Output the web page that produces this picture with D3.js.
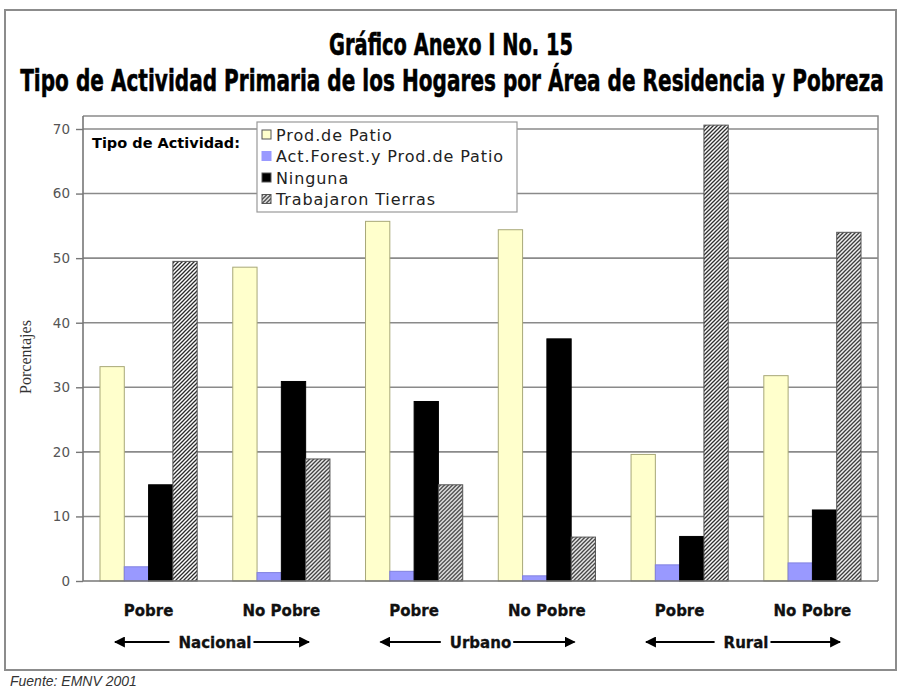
<!DOCTYPE html>
<html>
<head>
<meta charset="utf-8">
<script src="https://cdn.jsdelivr.net/npm/d3@7/dist/d3.min.js"></script>
<style>
  html, body { margin: 0; padding: 0; background: #fff; }
  svg { display: block; }
</style>
</head>
<body>
<svg id="chart" width="901" height="690"></svg>
<script>
// Categories along the x axis (pairs by area of residence)
const categories = ["Pobre", "No Pobre", "Pobre", "No Pobre", "Pobre", "No Pobre"];
const areas = ["Nacional", "Urbano", "Rural"];

// Series (percent of households)
const seriesNames = ["Prod.de Patio", "Act.Forest.y Prod.de Patio", "Ninguna", "Trabajaron Tierras"];
const prodPatio   = [33.2, 48.6, 55.7, 54.4, 19.6, 31.8];
const actForest   = [2.2, 1.3, 1.5, 0.8, 2.5, 2.8];
const ninguna     = [14.9, 30.9, 27.8, 37.5, 6.9, 11.0];
const tierras     = [49.5, 18.9, 14.9, 6.8, 70.6, 54.0];
const yTicks      = [0, 10, 20, 30, 40, 50, 60, 70];

const seriesValues = [prodPatio, actForest, ninguna, tierras];

const svg = d3.select("#chart");
const defs = svg.append("defs");

// diagonal hatch for "Trabajaron Tierras"
const pat = defs.append("pattern")
  .attr("id", "hatch")
  .attr("patternUnits", "userSpaceOnUse")
  .attr("width", 4).attr("height", 4);
pat.append("rect").attr("width", 4).attr("height", 4).attr("fill", "#fff");
pat.append("path")
  .attr("d", "M-1,1 l2,-2 M0,4 l4,-4 M3,5 l2,-2")
  .attr("stroke", "#2a2a2a").attr("stroke-width", 1.3);

const fills = ["#FFFFCC", "#9999FF", "#000000", "url(#hatch)"];
const strokes = ["#a8a878", "#8080e0", "#000000", "#555"];

// outer chart frame
svg.append("rect")
  .attr("x", 5).attr("y", 10).attr("width", 891).attr("height", 660)
  .attr("fill", "none").attr("stroke", "#8c8c8c").attr("stroke-width", 2);

// title: bold face sized to the target width, then stretched vertically
// to get a tall condensed look
const titleFont = "'DejaVu Sans', sans-serif";
function titleLine(str, cx, baseline, targetWidth, visualSize) {
  const t = svg.append("text")
    .attr("text-anchor", "middle")
    .attr("font-family", titleFont).attr("font-weight", "bold")
    .attr("font-size", 20)
    .attr("fill", "#000")
    .text(str);
  const w20 = t.node().getComputedTextLength();
  const f = 20 * targetWidth / w20;
  const sy = visualSize / f;
  t.attr("font-size", f)
    .attr("stroke", "#000").attr("stroke-width", 0.6 / sy)
    .attr("transform", `translate(${cx},${baseline}) scale(1,${sy})`);
}
titleLine("Gráfico Anexo I No. 15", 451, 55, 244, 31);
titleLine("Tipo de Actividad Primaria de los Hogares por Área de Residencia y Pobreza", 452, 91, 864, 31);

// plot area
const left = 83, right = 878, plotTop = 116;
const y = d3.scaleLinear().domain([0, 70]).range([581, 129]);
const x0 = d3.scaleBand()
  .domain(d3.range(categories.length))
  .range([left, right])
  .paddingInner(0.268)
  .paddingOuter(0.128);
const x1 = d3.scaleBand()
  .domain(d3.range(seriesNames.length))
  .range([0, x0.bandwidth()]);

// plot frame (top and right edges)
svg.append("path")
  .attr("d", `M${left},${plotTop}H${right}V${y(0)}`)
  .attr("fill", "none").attr("stroke", "#8a8a8a").attr("stroke-width", 1.5);

// gridlines
svg.append("g")
  .selectAll("line")
  .data(yTicks.filter(t => t > 0))
  .join("line")
  .attr("x1", left).attr("x2", right)
  .attr("y1", d => y(d)).attr("y2", d => y(d))
  .attr("stroke", "#8a8a8a").attr("stroke-width", 1.6);

// y axis
const yAxis = svg.append("g")
  .attr("transform", `translate(${left},0)`)
  .call(d3.axisLeft(y).tickValues(yTicks).tickSize(7).tickPadding(6).tickFormat(d3.format("d")));
yAxis.select(".domain").remove();
yAxis.append("line")
  .attr("x1", 0).attr("x2", 0).attr("y1", plotTop).attr("y2", y(0))
  .attr("stroke", "#777").attr("stroke-width", 1.6);
yAxis.selectAll(".tick line").attr("stroke", "#777").attr("stroke-width", 1.4);
yAxis.selectAll(".tick text")
  .attr("font-family", "'DejaVu Sans', sans-serif")
  .attr("font-size", 13.5).attr("fill", "#555");

svg.append("text")
  .attr("transform", `translate(31,357) rotate(-90)`)
  .attr("text-anchor", "middle")
  .attr("font-family", "'Liberation Serif', 'DejaVu Serif', serif")
  .attr("font-size", 16).attr("fill", "#333")
  .text("Porcentajes");

// bars
const groups = svg.append("g")
  .selectAll("g")
  .data(categories.map((c, i) => i))
  .join("g")
  .attr("transform", i => `translate(${x0(i)},0)`);

groups.selectAll("rect")
  .data(i => seriesValues.map((vals, s) => ({ s, v: vals[i] })))
  .join("rect")
  .attr("x", d => x1(d.s))
  .attr("width", x1.bandwidth())
  .attr("y", d => y(d.v))
  .attr("height", d => y(0) - y(d.v))
  .attr("fill", d => fills[d.s])
  .attr("stroke", d => strokes[d.s])
  .attr("stroke-width", 1);

// x axis baseline
svg.append("line")
  .attr("x1", left).attr("x2", right)
  .attr("y1", y(0)).attr("y2", y(0))
  .attr("stroke", "#777").attr("stroke-width", 1.6);

// category labels
svg.append("g")
  .selectAll("text")
  .data(categories)
  .join("text")
  .attr("x", (d, i) => x0(i) + x0.bandwidth() / 2)
  .attr("y", 616)
  .attr("text-anchor", "middle")
  .attr("font-family", "'DejaVu Sans', sans-serif")
  .attr("font-weight", "bold").attr("font-size", 15)
  .attr("fill", "#111").attr("stroke", "#111").attr("stroke-width", 0.3)
  .text(d => d);

// area labels with arrows
defs.append("marker")
  .attr("id", "arrow")
  .attr("viewBox", "0 0 10 10")
  .attr("refX", 9).attr("refY", 5)
  .attr("markerWidth", 5).attr("markerHeight", 5)
  .attr("orient", "auto-start-reverse")
  .append("path").attr("d", "M0,0 L10,5 L0,10 z").attr("fill", "#000");

areas.forEach((a, k) => {
  const c = (x0(2 * k) + x0(2 * k + 1) + x0.bandwidth()) / 2;
  const t = svg.append("text")
    .attr("x", c).attr("y", 648)
    .attr("text-anchor", "middle")
    .attr("font-family", "'DejaVu Sans', sans-serif")
    .attr("font-weight", "bold").attr("font-size", 15)
    .attr("fill", "#111").attr("stroke", "#111").attr("stroke-width", 0.3)
    .text(a);
  const w = t.node().getComputedTextLength();
  svg.append("line")
    .attr("x1", c - w / 2 - 9).attr("x2", c - 100)
    .attr("y1", 642).attr("y2", 642)
    .attr("stroke", "#000").attr("stroke-width", 2.2)
    .attr("marker-end", "url(#arrow)");
  svg.append("line")
    .attr("x1", c + w / 2 + 2).attr("x2", c + 94)
    .attr("y1", 642).attr("y2", 642)
    .attr("stroke", "#000").attr("stroke-width", 2.2)
    .attr("marker-end", "url(#arrow)");
});

// legend
svg.append("text")
  .attr("x", 92).attr("y", 148)
  .attr("font-family", "'DejaVu Sans', sans-serif")
  .attr("font-weight", "bold").attr("font-size", 14.5)
  .attr("fill", "#000")
  .text("Tipo de Actividad:");

const lg = svg.append("g").attr("transform", "translate(257,122)");
lg.append("rect")
  .attr("width", 260).attr("height", 90)
  .attr("fill", "#fff").attr("stroke", "#999").attr("stroke-width", 1.2);
const items = lg.selectAll("g")
  .data(seriesNames)
  .join("g")
  .attr("transform", (d, i) => `translate(5,${13 + i * 21.5})`);
items.append("rect")
  .attr("x", 0).attr("y", -5).attr("width", 9).attr("height", 9)
  .attr("fill", (d, i) => fills[i])
  .attr("stroke", (d, i) => i === 1 ? "#9999FF" : "#555")
  .attr("stroke-width", 1);
items.append("text")
  .attr("x", 14).attr("y", 5.5)
  .attr("font-family", "'DejaVu Sans', sans-serif")
  .attr("font-size", 16).attr("letter-spacing", 0.9).attr("fill", "#222")
  .text(d => d);

// source note
svg.append("text")
  .attr("x", 10).attr("y", 686)
  .attr("font-family", "'Liberation Sans', Arial, sans-serif")
  .attr("font-style", "italic").attr("font-size", 14)
  .attr("fill", "#333")
  .text("Fuente: EMNV 2001");
</script>
</body>
</html>
